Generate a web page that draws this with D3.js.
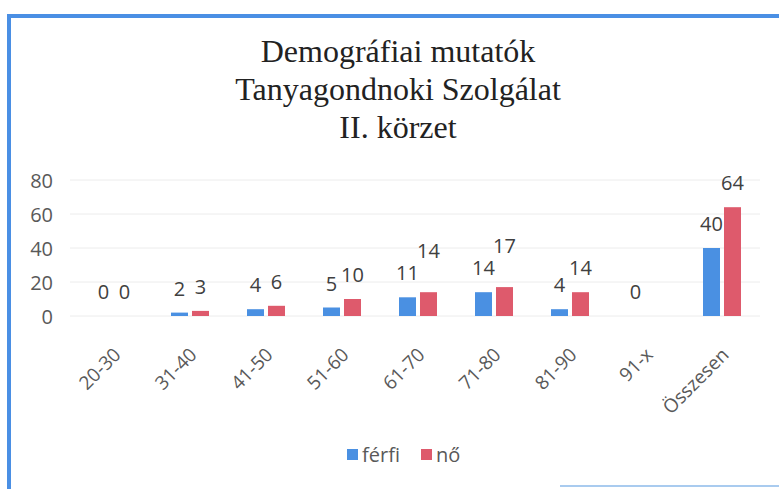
<!DOCTYPE html>
<html>
<head>
<meta charset="utf-8">
<script src="https://cdn.jsdelivr.net/npm/d3@7"></script>
<style>
  body { margin: 0; background: #fff; }
  svg { display: block; }
</style>
</head>
<body>
<script>
// chart data
let categories = ["20-30", "31-40", "41-50", "51-60", "61-70", "71-80", "81-90", "91-x", "Összesen"];
let ferfi = [0, 2, 4, 5, 11, 14, 4, 0, 40];
let no = [0, 3, 6, 10, 14, 17, 14, null, 64];
let seriesNames = ["férfi", "nő"];
let seriesColors = ["#4a90e2", "#de5a6c"];
let yTicks = [0, 20, 40, 60, 80];
let titleLines = ["Demográfiai mutatók", "Tanyagondnoki Szolgálat", "II. körzet"];

let width = 779, height = 489;
let svg, x, xs, y;

appendSvg("body");
appendFrame();
appendTitle();
setupScales();
appendGrid();
appendBars();
appendLabels();
appendXAxis();
appendLegend();

function appendSvg(domElement) {
  svg = d3.select(domElement).append("svg")
    .attr("width", width)
    .attr("height", height);
}

function appendFrame() {
  // blue frame of the scanned chart: strong top and left, faint bottom
  svg.append("path")
    .attr("d", "M9,489 V16 H779")
    .attr("fill", "none")
    .attr("stroke", "#4a8fe4")
    .attr("stroke-width", 4);
  svg.append("line")
    .attr("x1", 560).attr("x2", 779)
    .attr("y1", 486).attr("y2", 486)
    .attr("stroke", "#a9cbef")
    .attr("stroke-width", 2);
}

function appendTitle() {
  svg.append("text")
    .attr("x", 398).attr("y", 62)
    .attr("text-anchor", "middle")
    .style("font-family", "'Liberation Serif', 'DejaVu Serif', serif")
    .style("font-size", "32px")
    .style("fill", "#222")
    .selectAll("tspan")
    .data(titleLines)
    .join("tspan")
      .attr("x", 398)
      .attr("dy", (d, i) => i === 0 ? 0 : 38)
      .text(d => d);
}

function setupScales() {
  x = d3.scaleBand().domain(categories).range([76, 760]);
  xs = d3.scaleBand().domain(seriesNames).range([-19, 19]).paddingInner(0.19);
  y = d3.scaleLinear().domain([0, 80]).range([316, 180]);
}

function appendGrid() {
  svg.append("g")
    .selectAll("line")
    .data(yTicks)
    .join("line")
      .attr("x1", 70).attr("x2", 760)
      .attr("y1", d => y(d)).attr("y2", d => y(d))
      .attr("stroke", "#ececec")
      .attr("stroke-width", 1);

  svg.append("g")
    .attr("transform", "translate(53,0)")
    .call(d3.axisLeft(y).tickValues(yTicks).tickSize(0).tickPadding(0))
    .call(g => g.select(".domain").remove())
    .selectAll("text")
      .attr("dy", "0.35em")
      .style("font-family", "'Open Sans', sans-serif")
      .style("font-size", "20px")
      .style("fill", "#595959");
}

function rows() {
  let out = [];
  categories.forEach((c, i) => {
    [ferfi[i], no[i]].forEach((v, s) => {
      if (v !== null) out.push({cat: c, s: s, v: v});
    });
  });
  return out;
}

function appendBars() {
  svg.append("g")
    .selectAll("rect")
    .data(rows())
    .join("rect")
      .attr("x", d => x(d.cat) + x.bandwidth() / 2 + xs(seriesNames[d.s]))
      .attr("y", d => y(d.v))
      .attr("width", xs.bandwidth())
      .attr("height", d => y(0) - y(d.v))
      .attr("fill", d => seriesColors[d.s]);
}

function appendLabels() {
  let data = rows();
  // lift the second label when it would collide with the first one
  data.forEach(d => {
    d.lift = 0;
    if (d.s === 1) {
      let i = categories.indexOf(d.cat);
      let a = ferfi[i];
      if (a !== null) {
        let wa = String(a).length * 11.5, wb = String(d.v).length * 11.5;
        let dx = xs.step();
        if (Math.abs(y(a) - y(d.v)) < 16 && (wa + wb) / 2 + 1 > dx) d.lift = 17;
      }
    }
  });

  svg.append("g")
    .selectAll("text")
    .data(data)
    .join("text")
      .attr("x", d => x(d.cat) + x.bandwidth() / 2 + xs(seriesNames[d.s]) + xs.bandwidth() / 2)
      .attr("y", d => y(d.v) - 17 - d.lift)
      .attr("text-anchor", "middle")
      .style("font-family", "'Open Sans', sans-serif")
      .style("font-size", "20px")
      .style("fill", "#404040")
      .text(d => d.v);
}

function appendXAxis() {
  svg.append("g")
    .selectAll("text")
    .data(categories)
    .join("text")
      .attr("transform", d => `translate(${x(d) + x.bandwidth() / 2 + 8},356) rotate(-45)`)
      .attr("text-anchor", "end")
      .style("font-family", "'Open Sans', sans-serif")
      .style("font-size", "19px")
      .style("fill", "#595959")
      .text(d => d);
}

function appendLegend() {
  let items = [{x: 347, name: seriesNames[0]}, {x: 421, name: seriesNames[1]}];
  let g = svg.append("g");
  items.forEach((it, i) => {
    g.append("rect")
      .attr("x", it.x).attr("y", 449)
      .attr("width", 11).attr("height", 11)
      .attr("fill", seriesColors[i]);
    g.append("text")
      .attr("x", it.x + 15).attr("y", 462)
      .style("font-family", "'Open Sans', sans-serif")
      .style("font-size", "20px")
      .style("fill", "#595959")
      .text(it.name);
  });
}
</script>
</body>
</html>
